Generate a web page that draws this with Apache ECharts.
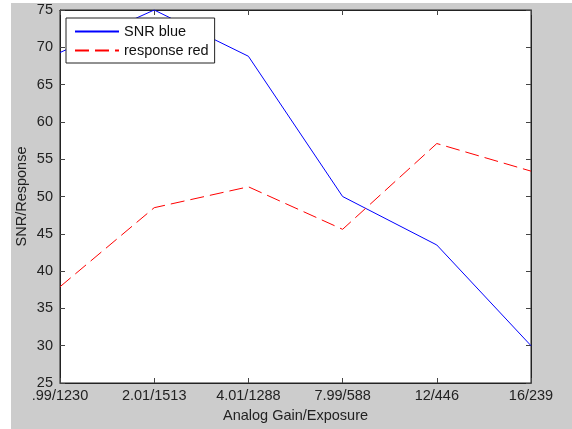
<!DOCTYPE html>
<html>
<head>
<meta charset="utf-8">
<script src="https://cdn.jsdelivr.net/npm/echarts@6/dist/echarts.min.js"></script>
<style>
  html, body { margin: 0; padding: 0; background: #fff; }
  .wrap { position: absolute; left: 11px; top: 3px; width: 561px; height: 426px; background: #cccccc; }
  #chart { width: 561px; height: 426px; }
</style>
</head>
<body>
<div class="wrap"><div id="chart"></div></div>
<script>
// categories (gain/exposure)
const categories = ['.99/1230', '2.01/1513', '4.01/1288', '7.99/588', '12/446', '16/239']
// series values
const snrBlue = [69.3, 75, 68.8, 50, 43.5, 30]
const responseRed = [37.9, 48.5, 51.3, 45.6, 57.1, 53.4]
// y axis range
const yMin = 25
const yMax = 75
const yStep = 5

const font = 'Arial, "Liberation Sans", sans-serif'
const fs = 14.5
const blue = '#0000ff'
const red = '#ff0000'
const redDash = [14, 6]

const option = {
  animation: false,
  textStyle: { fontFamily: font },
  grid: {
    left: 49,
    top: 7,
    right: 41,
    bottom: 46,
    outerBoundsMode: 'none',
    containLabel: false,
    show: true,
    backgroundColor: '#ffffff',
    borderColor: '#222',
    borderWidth: 1,
  },
  // 图例
  legend: {
    orient: 'vertical',
    left: 55,
    top: 15,
    padding: [6, 6, 5, 8],
    itemGap: 4,
    itemWidth: 44,
    itemHeight: 16,
    backgroundColor: '#fff',
    borderColor: '#222',
    borderWidth: 1,
    textStyle: { fontFamily: font, fontSize: fs, color: '#111' },
    data: ['SNR blue', 'response red'],
  },
  xAxis: [
    {
      type: 'category',
      boundaryGap: false,
      data: categories,
      name: 'Analog Gain/Exposure',
      nameLocation: 'middle',
      nameGap: 25,
      nameTextStyle: { fontFamily: font, fontSize: fs, color: '#222' },
      axisLine: { lineStyle: { color: '#222' } },
      axisTick: { inside: true, length: 5, lineStyle: { color: '#444' } },
      axisLabel: { fontFamily: font, fontSize: fs, color: '#222', margin: 5 },
      splitLine: { show: false },
    },
    {
      type: 'category',
      position: 'top',
      boundaryGap: false,
      data: categories,
      axisLine: { lineStyle: { color: '#222' } },
      axisTick: { inside: true, length: 5, lineStyle: { color: '#444' } },
      axisLabel: { show: false },
    },
  ],
  yAxis: [
    {
      type: 'value',
      min: yMin,
      max: yMax,
      interval: yStep,
      name: 'SNR/Response',
      nameLocation: 'middle',
      nameGap: 31,
      nameMoveOverlap: false,
      nameTextStyle: { fontFamily: font, fontSize: fs, color: '#222' },
      axisLine: { show: true, lineStyle: { color: '#222' } },
      axisTick: { show: true, inside: true, length: 5, lineStyle: { color: '#444' } },
      axisLabel: { fontFamily: font, fontSize: fs, color: '#222', margin: 7 },
      splitLine: { show: false },
    },
    {
      type: 'value',
      position: 'right',
      min: yMin,
      max: yMax,
      interval: yStep,
      axisLine: { show: true, lineStyle: { color: '#222' } },
      axisTick: { show: true, inside: true, length: 5, lineStyle: { color: '#444' } },
      axisLabel: { show: false },
      splitLine: { show: false },
    },
  ],
  series: [
    {
      name: 'SNR blue',
      type: 'line',
      symbol: 'none',
      itemStyle: { color: blue, opacity: 0 },
      lineStyle: { color: blue, width: 1 },
      data: snrBlue,
    },
    {
      name: 'response red',
      type: 'line',
      symbol: 'none',
      itemStyle: { color: red, opacity: 0 },
      lineStyle: { color: red, width: 1, type: redDash },
      data: responseRed,
    },
  ],
}
echarts.init(document.getElementById('chart')).setOption(option)
</script>
</body>
</html>
